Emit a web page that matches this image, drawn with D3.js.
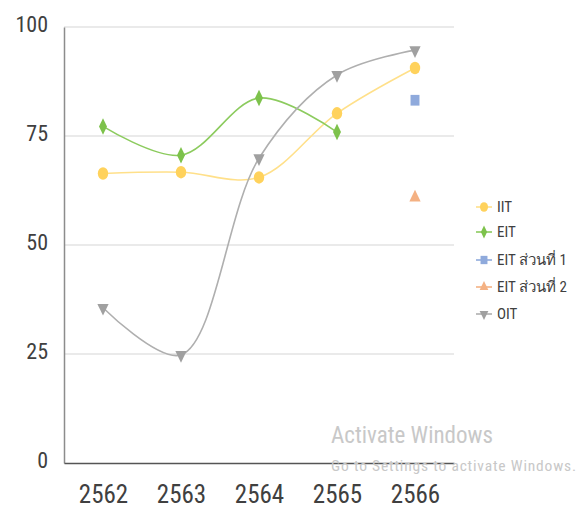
<!DOCTYPE html>
<html><head><meta charset="utf-8">
<script src="https://cdn.jsdelivr.net/npm/d3@7"></script>
<style>
html,body{margin:0;padding:0;background:#fff;}
svg{display:block;}
text{font-family:"Liberation Sans Narrow","Roboto Condensed","Liberation Sans",sans-serif;}
</style></head>
<body>
<script>
const categories = ["2562","2563","2564","2565","2566"];
const yTicks = [0,25,50,75,100];
const seriesNames = ["IIT","EIT","EIT ส่วนที่ 1","EIT ส่วนที่ 2","OIT"];
const iit  = [66.4, 66.7, 65.5, 80.2, 90.6];
const eit  = [77.2, 70.6, 83.7, 75.9, null];
const eit1 = [null, null, null, null, 83.2];
const eit2 = [null, null, null, null, 60.9];
const oit  = [35.6, 24.8, 69.9, 89.0, 94.7];

const series = [
  {name: seriesNames[0], values: iit,  color: "#FFD25C", line: "#FFE08A", symbol: d3.symbolCircle, size: 85},
  {name: seriesNames[1], values: eit,  color: "#7DC24B", line: "#8CCB5E", symbol: d3.symbolDiamond, size: 55},
  {name: seriesNames[2], values: eit1, color: "#8FAADC", line: "#8FAADC", symbol: d3.symbolSquare, size: 80},
  {name: seriesNames[3], values: eit2, color: "#F4B183", line: "#F4B183", symbol: d3.symbolTriangle, size: 55},
  {name: seriesNames[4], values: oit,  color: "#A0A0A0", line: "#AFAFAF", symbol: d3.symbolTriangle, size: 55, flip: true}
];

const W = 585, H = 512;
const m = {left: 64, right: 131, top: 27, bottom: 49};
const svg = d3.select("body").append("svg").attr("width", W).attr("height", H);

const x = d3.scalePoint().domain(categories).range([m.left, W - m.right]).padding(0.5);
const y = d3.scaleLinear().domain([0, 100]).range([H - m.bottom, m.top]);

// gridlines
svg.append("g").selectAll("line").data(yTicks.filter(d => d > 0)).join("line")
  .attr("x1", m.left).attr("x2", W - m.right)
  .attr("y1", d => y(d)).attr("y2", d => y(d))
  .attr("stroke", "#e3e3e3").attr("stroke-width", 1.5);

// y axis
const yAxis = svg.append("g").attr("transform", `translate(${m.left},0)`)
  .call(d3.axisLeft(y).tickValues(yTicks).tickSize(0).tickPadding(16));
yAxis.select(".domain").attr("stroke", "#8c8c8c").attr("stroke-width", 1.5);
yAxis.selectAll("text").attr("font-size", 22).attr("fill", "#404040").attr("dy", "0.2em");

// x axis
const xAxis = svg.append("g").attr("transform", `translate(0,${H - m.bottom})`)
  .call(d3.axisBottom(x).tickSize(0).tickPadding(22));
xAxis.select(".domain").attr("stroke", "#555").attr("stroke-width", 1.5);
xAxis.selectAll("text").attr("font-size", 25).attr("fill", "#404040");

// lines
const lineGen = d3.line()
  .defined(d => d.v != null)
  .x(d => x(d.c)).y(d => y(d.v))
  .curve(d3.curveCatmullRom.alpha(0.5));

series.forEach(s => {
  const pts = s.values.map((v, i) => ({c: categories[i], v}));
  svg.append("path").datum(pts).attr("d", lineGen)
    .attr("fill", "none").attr("stroke", s.line).attr("stroke-width", 1.6);
});

function marker(g, s, cx, cy, scale) {
  const sym = d3.symbol().type(s.symbol).size(s.size * (scale || 1));
  g.append("path").attr("d", sym())
    .attr("transform", `translate(${cx},${cy}) scale(1,${s.flip ? -1.2 : 1.2})`)
    .attr("fill", s.color);
}

series.forEach(s => {
  const g = svg.append("g");
  s.values.forEach((v, i) => {
    if (v == null) return;
    marker(g, s, x(categories[i]), y(v));
  });
});

// legend
const legY = [207, 232, 260, 287, 314];
series.forEach((s, i) => {
  const g = svg.append("g");
  g.append("line").attr("x1", 476).attr("x2", 492).attr("y1", legY[i]).attr("y2", legY[i])
    .attr("stroke", s.line).attr("stroke-width", 1.6);
  marker(g, s, 484, legY[i], 0.6);
  g.append("text").attr("x", 497).attr("y", legY[i]).attr("dy", "0.36em")
    .attr("font-size", 15).attr("fill", "#404040").text(s.name);
});

// watermark
svg.append("text").attr("x", 331).attr("y", 443).attr("font-size", 23)
  .attr("fill", "#c8c8c8").attr("font-family", "'Open Sans','Liberation Sans',sans-serif")
  .attr("textLength", 162).text("Activate Windows");
svg.append("text").attr("x", 331).attr("y", 471).attr("font-size", 15.5)
  .attr("fill", "#c8c8c8").attr("font-family", "'Open Sans','Liberation Sans',sans-serif")
  .attr("textLength", 245).text("Go to Settings to activate Windows.");
</script>
</body></html>
